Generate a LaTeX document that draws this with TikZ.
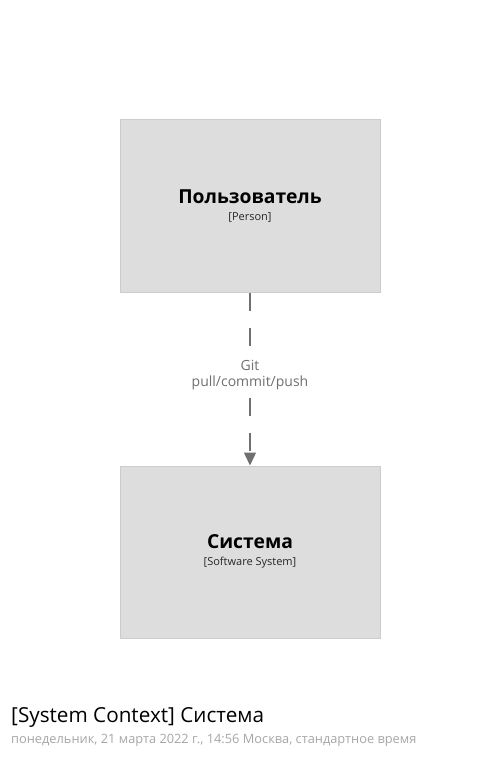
\documentclass[tikz,border=0pt]{standalone}
\usepackage{fontspec}
\setmainfont{Open Sans}
\usetikzlibrary{arrows.meta}
\definecolor{boxfill}{HTML}{DDDDDD}
\definecolor{boxline}{HTML}{CCCCCC}
\definecolor{relgray}{HTML}{707070}
\definecolor{subgray}{HTML}{A6A6A6}
\tikzset{
  elem/.style={draw=boxline, fill=boxfill, line width=1pt, minimum width=260pt, minimum height=172pt, inner sep=0pt},
  elname/.style={font=\fontsize{19.3}{23}\selectfont\bfseries, text=black, inner sep=0pt},
  eltype/.style={font=\fontsize{11}{13}\selectfont, text=black!85, inner sep=0pt},
  rel/.style={draw=relgray, line width=1.3pt, dash pattern=on 18pt off 17pt, -{Triangle[width=12pt,length=13pt]}},
  rellabel/.style={font=\fontsize{14}{16}\selectfont, text=relgray, fill=white, align=center, inner sep=1pt},
}
\begin{document}
\begin{tikzpicture}[x=1pt,y=-1pt]
\useasboundingbox (0,0) rectangle (500,759);
\node[elem] (user) at (250,206) {};
\node[elname] (userName) at (250,197) {Пользователь};
\node[eltype] (userType) at (250,217) {[Person]};
\node[elem] (sys) at (250,552) {};
\node[elname] (sysName) at (250,542) {Система};
\node[eltype] (sysType) at (250,563) {[Software System]};
\draw[rel] (user.south) -- (sys.north);
\node[rellabel] (relLabel) at (250,375) {Git\\pull/commit/push};
\node[anchor=west, font=\fontsize{20.7}{24}\selectfont, text=black, inner sep=0pt] (title) at (11,717) {[System Context] Система};
\node[anchor=west, font=\fontsize{12.8}{15}\selectfont, text=subgray, inner sep=0pt] (sub) at (11,740) {понедельник, 21 марта 2022 г., 14:56 Москва, стандартное время};
\end{tikzpicture}
\end{document}
